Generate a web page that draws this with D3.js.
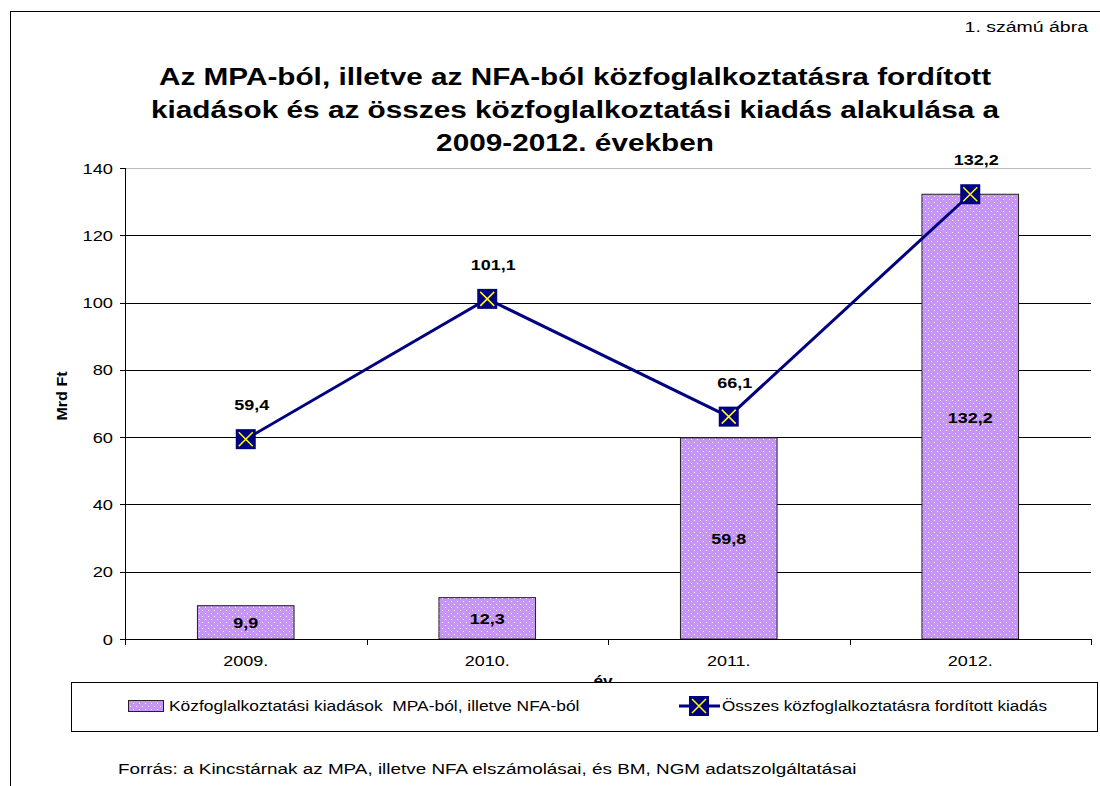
<!DOCTYPE html>
<html>
<head>
<meta charset="utf-8">
<script src="https://cdn.jsdelivr.net/npm/d3@7"></script>
<style>
  body { margin: 0; background: #fff; }
  svg { font-family: "Liberation Sans", Arial, sans-serif; }
</style>
</head>
<body>
<div id="chart"></div>
<script>
// data
const years = ['2009.', '2010.', '2011.', '2012.'];
const mpaNfa = [9.9, 12.3, 59.8, 132.2];
const total = [59.4, 101.1, 66.1, 132.2];
const yTicks = [0, 20, 40, 60, 80, 100, 120, 140];
const titleLines = [
  'Az MPA-ból, illetve az NFA-ból közfoglalkoztatásra fordított',
  'kiadások és az összes közfoglalkoztatási kiadás alakulása a',
  '2009-2012. években'
];
const fmt = v => d3.format('.1f')(v).replace('.', ',');

const W = 1100, H = 786;
const margin = {top: 168, right: 9, bottom: 147, left: 125};
const svg = d3.select('#chart').append('svg').attr('width', W).attr('height', H);

// the original text is rendered wider than Arial, so stretch it a bit
function stext(g, x, y, sx, txt) {
  return g.append('text').attr('transform', `translate(${x},${y}) scale(${sx},1)`).text(txt);
}

// pattern for bars
const defs = svg.append('defs');
const pat = defs.append('pattern').attr('id', 'dots')
  .attr('width', 6).attr('height', 6).attr('patternUnits', 'userSpaceOnUse');
pat.append('rect').attr('width', 6).attr('height', 6).attr('fill', '#C795F7');
pat.append('rect').attr('x', 1).attr('y', 1).attr('width', 1).attr('height', 1).attr('fill', '#fff');
pat.append('rect').attr('x', 4).attr('y', 4).attr('width', 1).attr('height', 1).attr('fill', '#fff');

// outer frame
svg.append('line').attr('x1', 10).attr('x2', W).attr('y1', 11.5).attr('y2', 11.5).attr('stroke', '#000');
svg.append('line').attr('x1', 10.5).attr('x2', 10.5).attr('y1', 11).attr('y2', H).attr('stroke', '#000');

stext(svg, 1088, 32, 1.3, '1. számú ábra').attr('text-anchor', 'end').attr('font-size', 15);

titleLines.forEach((t, i) => {
  stext(svg, 575, 85 + i * 33, 1.24, t)
    .attr('text-anchor', 'middle').attr('font-size', 24).attr('font-weight', 'bold');
});

const x = d3.scaleBand().domain(years).range([margin.left, W - margin.right]).paddingInner(0).paddingOuter(0);
const y = d3.scaleLinear().domain([0, 140]).range([H - margin.bottom, margin.top]);
const barW = x.bandwidth() * 0.4;
const cx = i => x(years[i]) + x.bandwidth() / 2;

// gridlines
svg.append('g').selectAll('line').data(yTicks.filter(d => d > 0)).join('line')
  .attr('x1', margin.left).attr('x2', W - margin.right)
  .attr('y1', d => Math.round(y(d)) + 0.5).attr('y2', d => Math.round(y(d)) + 0.5)
  .attr('stroke', d => d === 140 ? '#bbb' : '#000');

// bars
svg.append('g').selectAll('rect').data(mpaNfa).join('rect')
  .attr('x', (d, i) => x(years[i]) + (x.bandwidth() - barW) / 2)
  .attr('y', d => y(d))
  .attr('width', barW)
  .attr('height', d => y(0) - y(d))
  .attr('fill', 'url(#dots)')
  .attr('stroke', '#222').attr('stroke-width', 1);

const barLbl = svg.append('g');
mpaNfa.forEach((d, i) => {
  stext(barLbl, cx(i), (y(d) + y(0)) / 2 + 6, 1.2, fmt(d))
    .attr('text-anchor', 'middle').attr('font-size', 15).attr('font-weight', 'bold');
});

// axes
const yAxis = svg.append('g');
yAxis.selectAll('line').data(yTicks).join('line')
  .attr('x1', margin.left - 5).attr('x2', margin.left)
  .attr('y1', d => Math.round(y(d)) + 0.5).attr('y2', d => Math.round(y(d)) + 0.5).attr('stroke', '#000');
yTicks.forEach(t => {
  stext(yAxis, 113, y(t) + 5.5, 1.22, t).attr('text-anchor', 'end').attr('font-size', 15);
});
svg.append('line').attr('x1', margin.left + 0.5).attr('x2', margin.left + 0.5)
  .attr('y1', margin.top).attr('y2', y(0) + 6).attr('stroke', '#000');

const xAxisG = svg.append('g');
xAxisG.append('line').attr('x1', margin.left).attr('x2', W - margin.right)
  .attr('y1', y(0) + 0.5).attr('y2', y(0) + 0.5).attr('stroke', '#000');
xAxisG.selectAll('line.tk').data(years.concat(['end'])).join('line').attr('class', 'tk')
  .attr('x1', (d, i) => Math.round(margin.left + i * x.bandwidth()) + 0.5)
  .attr('x2', (d, i) => Math.round(margin.left + i * x.bandwidth()) + 0.5)
  .attr('y1', y(0)).attr('y2', y(0) + 6).attr('stroke', '#000');
years.forEach((d, i) => {
  stext(xAxisG, cx(i), y(0) + 27, 1.2, d).attr('text-anchor', 'middle').attr('font-size', 15);
});

svg.append('text').attr('transform', `translate(67,396) rotate(-90) scale(1.15,1)`)
  .attr('text-anchor', 'middle').attr('font-size', 14).attr('font-weight', 'bold').text('Mrd Ft');
stext(svg, 603, 686, 1.15, 'év').attr('text-anchor', 'middle')
  .attr('font-size', 15).attr('font-weight', 'bold');

// line series
const line = d3.line().x((d, i) => cx(i)).y(d => y(d));
svg.append('path').datum(total).attr('d', line)
  .attr('fill', 'none').attr('stroke', '#000080').attr('stroke-width', 3);

function marker(g, mx, my) {
  const s = 10;
  g.append('rect').attr('x', mx - s).attr('y', my - s).attr('width', 2 * s).attr('height', 2 * s).attr('fill', '#000080');
  g.append('path').attr('d', `M${mx - s + 3},${my - s + 3}L${mx + s - 3},${my + s - 3}M${mx + s - 3},${my - s + 3}L${mx - s + 3},${my + s - 3}`)
    .attr('stroke', '#FFFF00').attr('stroke-width', 1.5);
}
const mk = svg.append('g');
total.forEach((d, i) => marker(mk, cx(i), y(d)));

const lineLbl = svg.append('g');
total.forEach((d, i) => {
  stext(lineLbl, cx(i) + 6, y(d) - 29, 1.2, fmt(d))
    .attr('text-anchor', 'middle').attr('font-size', 15).attr('font-weight', 'bold');
});

// legend
const lg = svg.append('g');
lg.append('rect').attr('x', 71.5).attr('y', 682.5).attr('width', 1026).attr('height', 49)
  .attr('fill', '#fff').attr('stroke', '#000');
lg.append('rect').attr('x', 128.5).attr('y', 700.5).attr('width', 35).attr('height', 11)
  .attr('fill', 'url(#dots)').attr('stroke', '#222');
stext(lg, 169, 711, 1.16, 'Közfoglalkoztatási kiadások  MPA-ból, illetve NFA-ból').attr('font-size', 15)
  .style('white-space', 'pre');
lg.append('line').attr('x1', 679).attr('x2', 720).attr('y1', 706).attr('y2', 706)
  .attr('stroke', '#000080').attr('stroke-width', 3);
marker(lg, 699, 706);
stext(lg, 722, 711, 1.14, 'Összes közfoglalkoztatásra fordított kiadás').attr('font-size', 15);

stext(svg, 118, 774, 1.26, 'Forrás: a Kincstárnak az MPA, illetve NFA elszámolásai, és BM, NGM adatszolgáltatásai')
  .attr('font-size', 15);
</script>
</body>
</html>
